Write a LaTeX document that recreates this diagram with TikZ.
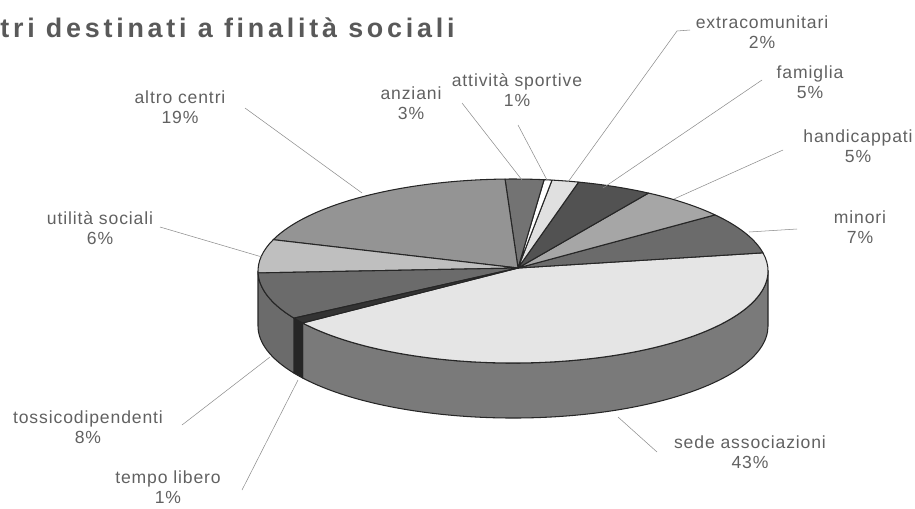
\documentclass[tikz,border=0pt]{standalone}
\usepackage{fontspec}
\usepackage{tikz}
\newfontfamily\lblfont[LetterSpace=5]{Liberation Sans}
\newfontfamily\titlefont[LetterSpace=14]{Liberation Sans}
\tikzstyle{lbl}=[font={\lblfont\fontsize{10}{11.5}\selectfont},text=black!62,align=center,inner sep=0pt]
\tikzstyle{ttl}=[font={\titlefont\bfseries\fontsize{15.3}{18}\selectfont},text=black!65,inner sep=0pt]
\tikzstyle{lead}=[draw=black!45,line width=0.3pt]
\tikzstyle{slice}=[draw=black!85,line width=0.6pt,line join=round]
\tikzstyle{rim}=[x radius=255,y radius=92]

\begin{document}
\begin{tikzpicture}[x=0.02cm,y=-0.02cm]
\useasboundingbox (0,0) rectangle (915,508);
\node[ttl,anchor=base west] (title) at (0,37) {tri destinati a finalità sociali};

\begin{scope}[shift={(513,271)},yscale=-1]
  \coordinate (O) at (5,3);
  %Sides
  \filldraw[slice,fill=black!52] (0:255 and 92) arc[rim,start angle=0,end angle=-145.6] -- ++(0,-55) arc[rim,start angle=-145.6,end angle=0] -- cycle;
  \filldraw[slice,fill=black!85] (-145.6:255 and 92) arc[rim,start angle=-145.6,end angle=-149.2] -- ++(0,-55) arc[rim,start angle=-149.2,end angle=-145.6] -- cycle;
  \filldraw[slice,fill=black!58] (-149.2:255 and 92) arc[rim,start angle=-149.2,end angle=-180] -- ++(0,-55) arc[rim,start angle=-180,end angle=-149.2] -- cycle;
  %Slices
  \filldraw[slice,fill=black!10] (O) -- (11.4:255 and 92) arc[rim,start angle=11.4,end angle=-145.6] -- cycle;
  \filldraw[slice,fill=black!58] (O) -- (37.6:255 and 92) arc[rim,start angle=37.6,end angle=11.4] -- cycle;
  \filldraw[slice,fill=black!35] (O) -- (57.9:255 and 92) arc[rim,start angle=57.9,end angle=37.6] -- cycle;
  \filldraw[slice,fill=black!68] (O) -- (75.1:255 and 92) arc[rim,start angle=75.1,end angle=57.9] -- cycle;
  \filldraw[slice,fill=black!12] (O) -- (81.2:255 and 92) arc[rim,start angle=81.2,end angle=75.1] -- cycle;
  \filldraw[slice,fill=white] (O) -- (83.0:255 and 92) arc[rim,start angle=83.0,end angle=81.2] -- cycle;
  \filldraw[slice,fill=black!55] (O) -- (91.8:255 and 92) arc[rim,start angle=91.8,end angle=83.0] -- cycle;
  \filldraw[slice,fill=black!42] (O) -- (160.1:255 and 92) arc[rim,start angle=160.1,end angle=91.8] -- cycle;
  \filldraw[slice,fill=black!25] (O) -- (181.2:255 and 92) arc[rim,start angle=181.2,end angle=160.1] -- cycle;
  \filldraw[slice,fill=black!58] (O) -- (210.8:255 and 92) arc[rim,start angle=210.8,end angle=181.2] -- cycle;
  \filldraw[slice,fill=black!80] (O) -- (214.4:255 and 92) arc[rim,start angle=214.4,end angle=210.8] -- cycle;
\end{scope}

%Nodes
\node[lbl] (altro)   at (180,107) {altro centri\\19\%};
\node[lbl] (anziani) at (411,103) {anziani\\3\%};
\node[lbl] (sport)   at (517,90)  {attività sportive\\1\%};
\node[lbl] (extra)   at (762,32)  {extracomunitari\\2\%};
\node[lbl] (famiglia) at (810,82) {famiglia\\5\%};
\node[lbl] (handi)   at (858,146) {handicappati\\5\%};
\node[lbl] (minori)  at (860,227) {minori\\7\%};
\node[lbl] (sede)    at (750,452) {sede associazioni\\43\%};
\node[lbl] (tempo)   at (168,487) {tempo libero\\1\%};
\node[lbl] (tossico) at (88,427)  {tossicodipendenti\\8\%};
\node[lbl] (utilita) at (100,228) {utilità sociali\\6\%};

\coordinate (altroL) at (245,108);   \coordinate (altroP) at (362,193);
\coordinate (anzianiL) at (462,103); \coordinate (anzianiP) at (522,180);
\coordinate (sportL) at (518,125);   \coordinate (sportP) at (547,180);
\coordinate (extraL) at (690,30);    \coordinate (extraK) at (677,31);
\coordinate (extraP) at (568,182);
\coordinate (famigliaL) at (762,80); \coordinate (famigliaP) at (603,188);
\coordinate (handiL) at (783,150);   \coordinate (handiP) at (674,199);
\coordinate (minoriL) at (797,229);  \coordinate (minoriP) at (749,232);
\coordinate (sedeL) at (657,452);    \coordinate (sedeP) at (618,417);
\coordinate (tempoL) at (242,490);   \coordinate (tempoP) at (298,380);
\coordinate (tossicoL) at (182,425); \coordinate (tossicoP) at (270,357);
\coordinate (utilitaL) at (160,227); \coordinate (utilitaP) at (262,257);

%Lines
\draw[lead] (altroL) -- (altroP);
\draw[lead] (anzianiL) -- (anzianiP);
\draw[lead] (sportL) -- (sportP);
\draw[lead] (extraL) -- (extraK) -- (extraP);
\draw[lead] (famigliaL) -- (famigliaP);
\draw[lead] (handiL) -- (handiP);
\draw[lead] (minoriL) -- (minoriP);
\draw[lead] (sedeL) -- (sedeP);
\draw[lead] (tempoL) -- (tempoP);
\draw[lead] (tossicoL) -- (tossicoP);
\draw[lead] (utilitaL) -- (utilitaP);
\end{tikzpicture}
\end{document}
